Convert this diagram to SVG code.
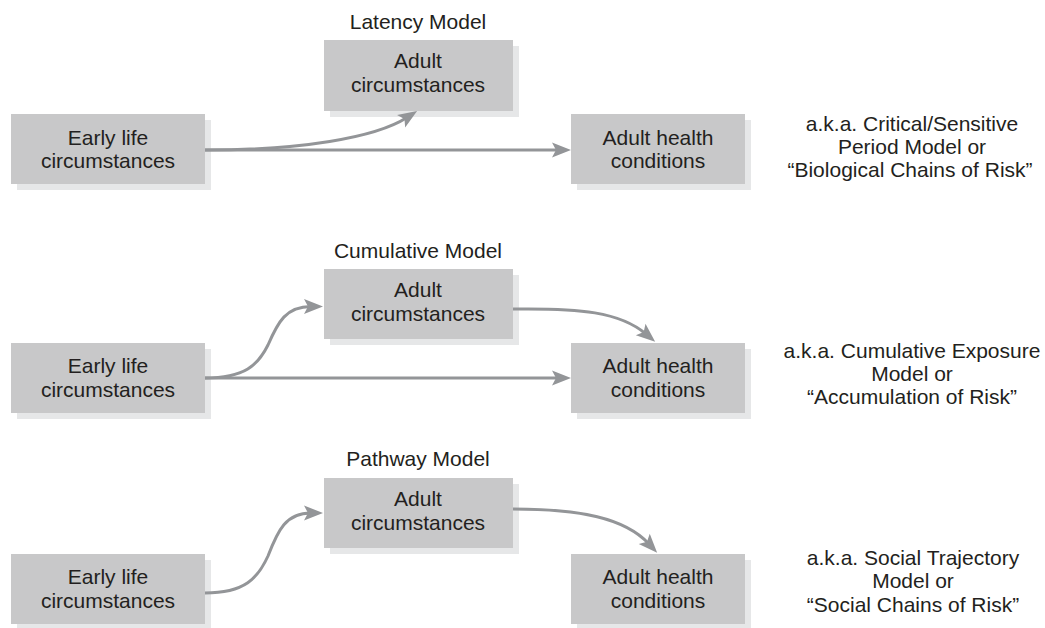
<svg xmlns="http://www.w3.org/2000/svg" width="1045" height="628" viewBox="0 0 1045 628">
<defs>
<style>
.shadow{fill:#e6e7e8;}
.box{fill:#c8c8c9;}
.t{font-family:"Liberation Sans",Arial,Helvetica,sans-serif;font-size:21px;fill:#231f20;text-anchor:middle;}
.conn{fill:none;stroke:#939598;stroke-width:3;}
</style>
<marker id="arr" markerUnits="userSpaceOnUse" markerWidth="22" markerHeight="18" viewBox="-2 -9 22 18" refX="7" refY="0" orient="auto">
<path d="M19,0 L0,-7.5 L4,0 L0,7.5 Z" fill="#939598"/>
</marker>
</defs>
<rect width="1045" height="628" fill="#ffffff"/>

<!-- Latency model -->
<text class="t" x="418" y="29">Latency Model</text>
<g id="early1"><rect class="shadow" x="17" y="120" width="194" height="70"/><rect class="box" x="11" y="114" width="194" height="70"/><text class="t" x="108" y="145">Early life</text><text class="t" x="108" y="168">circumstances</text></g>
<g id="adult1"><rect class="shadow" x="330" y="46" width="189" height="71"/><rect class="box" x="324" y="40" width="189" height="71"/><text class="t" x="418" y="68">Adult</text><text class="t" x="418" y="92">circumstances</text></g>
<g id="health1"><rect class="shadow" x="577" y="120" width="174" height="70"/><rect class="box" x="571" y="114" width="174" height="70"/><text class="t" x="658" y="145">Adult health</text><text class="t" x="658" y="168">conditions</text></g>
<g id="aka1"><text class="t" x="912" y="131">a.k.a. Critical/Sensitive</text><text class="t" x="912" y="154">Period Model or</text><text class="t" x="910" y="177">“Biological Chains of Risk”</text></g>

<!-- Cumulative model -->
<text class="t" x="418" y="258">Cumulative Model</text>
<g id="early2"><rect class="shadow" x="17" y="349" width="194" height="70"/><rect class="box" x="11" y="343" width="194" height="70"/><text class="t" x="108" y="373">Early life</text><text class="t" x="108" y="397">circumstances</text></g>
<g id="adult2"><rect class="shadow" x="330" y="275" width="189" height="70"/><rect class="box" x="324" y="269" width="189" height="70"/><text class="t" x="418" y="297">Adult</text><text class="t" x="418" y="321">circumstances</text></g>
<g id="health2"><rect class="shadow" x="577" y="349" width="174" height="70"/><rect class="box" x="571" y="343" width="174" height="70"/><text class="t" x="658" y="373">Adult health</text><text class="t" x="658" y="397">conditions</text></g>
<g id="aka2"><text class="t" x="912" y="358">a.k.a. Cumulative Exposure</text><text class="t" x="912" y="381">Model or</text><text class="t" x="912" y="404">“Accumulation of Risk”</text></g>

<!-- Pathway model -->
<text class="t" x="418" y="466">Pathway Model</text>
<g id="early3"><rect class="shadow" x="17" y="560" width="194" height="70"/><rect class="box" x="11" y="554" width="194" height="70"/><text class="t" x="108" y="584">Early life</text><text class="t" x="108" y="608">circumstances</text></g>
<g id="adult3"><rect class="shadow" x="330" y="484" width="189" height="70"/><rect class="box" x="324" y="478" width="189" height="70"/><text class="t" x="418" y="506">Adult</text><text class="t" x="418" y="530">circumstances</text></g>
<g id="health3"><rect class="shadow" x="577" y="560" width="174" height="70"/><rect class="box" x="571" y="554" width="174" height="70"/><text class="t" x="658" y="584">Adult health</text><text class="t" x="658" y="608">conditions</text></g>
<g id="aka3"><text class="t" x="913" y="565">a.k.a. Social Trajectory</text><text class="t" x="913" y="588">Model or</text><text class="t" x="913" y="612">“Social Chains of Risk”</text></g>

<g id="connectors">
<path class="conn" marker-end="url(#arr)" d="M205,150 C300,150 375,138 407,117.5"/>
<path class="conn" marker-end="url(#arr)" d="M205,150 L559,150"/>
<path class="conn" marker-end="url(#arr)" d="M205,378 C245,378 258,365 268,345 C278,322 286,306.5 311,306.5"/>
<path class="conn" marker-end="url(#arr)" d="M205,378 L559,378"/>
<path class="conn" marker-end="url(#arr)" d="M513,309 C580,308 620,312 646,334"/>
<path class="conn" marker-end="url(#arr)" d="M205,593 C245,593 258,578 268,556 C278,530 286,513 311,513"/>
<path class="conn" marker-end="url(#arr)" d="M513,509 C580,509 625,518 649,544"/>
</g>
</svg>
